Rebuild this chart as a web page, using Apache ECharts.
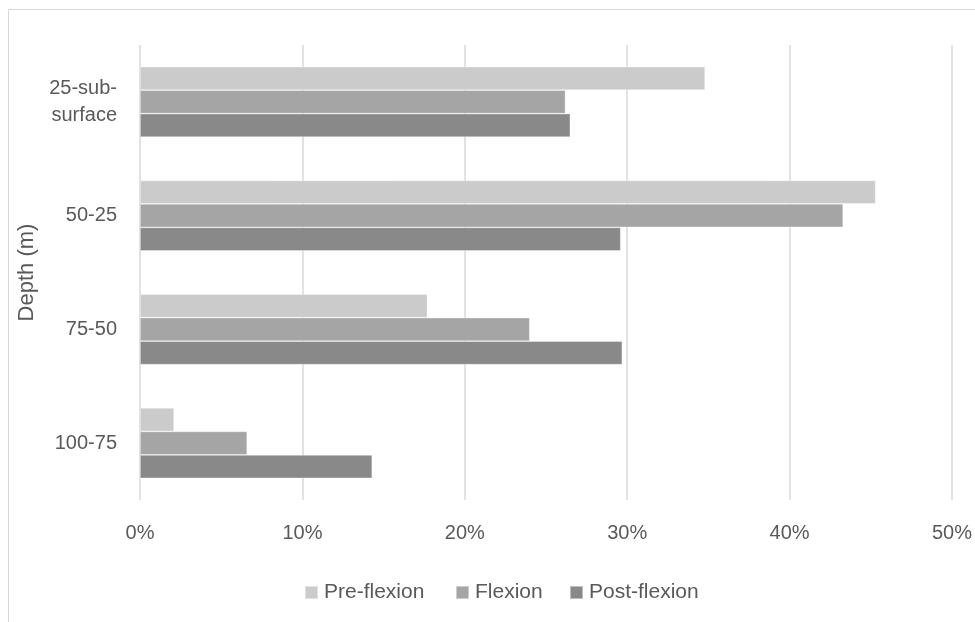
<!DOCTYPE html>
<html>
<head>
<meta charset="utf-8">
<script src="https://cdn.jsdelivr.net/npm/echarts@6/dist/echarts.min.js"></script>
<style>
  html, body { margin: 0; padding: 0; background: #ffffff; }
  #chart { width: 975px; height: 622px; }
</style>
</head>
<body>
<div id="chart"></div>
<script>
// Depth bins, shallowest first (drawn top to bottom)
const depthBins = ['25-sub-\nsurface', '50-25', '75-50', '100-75'];
const seriesNames = ['Pre-flexion', 'Flexion', 'Post-flexion'];
// Share of larvae per depth bin (%)
const preFlexion = [34.8, 45.3, 17.7, 2.1];
const flexion = [26.2, 43.3, 24.0, 6.6];
const postFlexion = [26.5, 29.6, 29.7, 14.3];
const xTicks = { min: 0, max: 50, interval: 10 };

const colors = ['#cbcbcb', '#a5a5a5', '#898989'];
const seriesData = [preFlexion, flexion, postFlexion];
const FONT = '"Liberation Sans", Arial, sans-serif';
const TEXT = '#595959';

const chart = echarts.init(document.getElementById('chart'), null, { renderer: 'canvas' });

const legendLefts = [304, 455, 569];

chart.setOption({
  backgroundColor: '#ffffff',
  animation: false,
  textStyle: { fontFamily: FONT },
  graphic: [{
    type: 'rect',
    shape: { x: 8.5, y: 9.5, width: 1200, height: 900 },
    style: { fill: 'none', stroke: '#d9d9d9', lineWidth: 1 },
    silent: true
  }],
  grid: { left: 140, right: 23, top: 45, bottom: 122, containLabel: false },
  legend: seriesNames.map((name, i) => ({
    data: [name],
    left: legendLefts[i],
    top: 582,
    itemWidth: 13,
    itemHeight: 13,
    itemGap: 0,
    icon: 'rect',
    textStyle: { color: TEXT, fontSize: 21, fontFamily: FONT, padding: [0, 0, 0, 1] },
    padding: 0,
    selectedMode: false
  })),
  xAxis: {
    type: 'value',
    min: xTicks.min,
    max: xTicks.max,
    interval: xTicks.interval,
    axisLine: { show: false },
    axisTick: { show: false },
    splitLine: { show: true, lineStyle: { color: '#d9d9d9', width: 1.5 } },
    axisLabel: {
      formatter: v => v + '%',
      color: TEXT,
      fontSize: 20,
      fontFamily: FONT,
      margin: 23
    }
  },
  yAxis: {
    type: 'category',
    data: depthBins,
    inverse: true,
    name: 'Depth (m)',
    nameLocation: 'middle',
    nameRotate: 90,
    nameGap: 100,
    nameTextStyle: { color: TEXT, fontSize: 22, fontFamily: FONT },
    axisLine: { show: false },
    axisTick: { show: false },
    splitLine: { show: false },
    axisLabel: {
      color: TEXT,
      fontSize: 20,
      fontFamily: FONT,
      margin: 23,
      lineHeight: 27,
      align: 'right'
    }
  },
  series: seriesNames.map((name, i) => ({
    name: name,
    type: 'bar',
    data: seriesData[i],
    barGap: '0%',
    barCategoryGap: '38%',
    itemStyle: { color: colors[i], borderColor: 'rgba(255,255,255,0.45)', borderWidth: 0.75 },
    emphasis: { disabled: true }
  }))
});
</script>
</body>
</html>
